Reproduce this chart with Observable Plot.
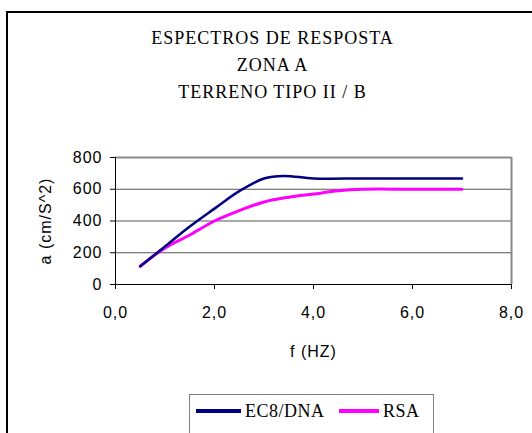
<!DOCTYPE html>
<html>
<head>
<meta charset="utf-8">
<script src="https://cdn.jsdelivr.net/npm/d3@7"></script>
<script src="https://cdn.jsdelivr.net/npm/@observablehq/plot@0.6"></script>
<style>
html, body { margin: 0; padding: 0; background: #fff; }
body { width: 532px; height: 433px; overflow: hidden; position: relative; }
#frame { position: absolute; left: 6px; top: 11px; width: 600px; height: 600px; border: 2px solid #000; box-sizing: border-box; }
#title { position: absolute; left: 0; top: 25px; width: 545px; text-align: center; font-family: "Liberation Serif", "Times New Roman", serif; font-size: 18px; line-height: 27px; letter-spacing: 1px; color: #000; }
#chart { position: absolute; left: 0; top: 140px; }
#chart svg text { letter-spacing: 1px; }
#legend { position: absolute; left: 189px; top: 394px; width: 245px; height: 60px; border: 1px solid #808080; box-sizing: border-box; background: #fff; font-family: "Liberation Serif", "Times New Roman", serif; font-size: 18px; letter-spacing: 0.5px; color: #000; }
.item { position: absolute; top: 6px; display: flex; align-items: center; height: 20px; }
.sw { width: 45px; height: 0; border-top: 4px solid; margin-right: 4px; }
</style>
</head>
<body>
<div id="frame"></div>
<div id="title"></div>
<div id="chart"></div>
<div id="legend"></div>
<script>
// ---- data ----
const titleLines = ["ESPECTROS DE RESPOSTA", "ZONA A", "TERRENO TIPO II / B"];
const seriesNames = ["EC8/DNA", "RSA"];
const seriesColors = ["#000080", "#FF00FF"];

const ec8Freq = [0.5, 1.0, 1.5, 2.0, 2.5, 3.0, 3.4, 4.0, 5.0, 6.0, 7.0];
const ec8Acc  = [115, 240, 365, 478, 588, 668, 684, 668, 668, 668, 668];

const rsaFreq = [0.5, 1.0, 1.5, 2.0, 2.5, 3.0, 3.5, 4.0, 4.5, 5.0, 6.0, 7.0];
const rsaAcc  = [115, 230, 312, 400, 465, 520, 550, 570, 590, 600, 600, 600];

const xTicks = [0, 2, 4, 6, 8];
const xTickLabels = ["0,0", "2,0", "4,0", "6,0", "8,0"];
const yTicks = [0, 200, 400, 600, 800];
const xLabel = "f (HZ)";
const yLabel = "a (cm/S^2)";

// ---- build ----
document.getElementById("title").innerHTML = titleLines.map(t => `<div>${t}</div>`).join("");

const ec8Data = ec8Freq.map((f, i) => ({f, a: ec8Acc[i]}));
const rsaData = rsaFreq.map((f, i) => ({f, a: rsaAcc[i]}));

const chart = Plot.plot({
  width: 532,
  height: 230,
  marginLeft: 115,
  marginRight: 21,
  marginTop: 17,
  marginBottom: 86,
  style: { fontFamily: "'Liberation Sans', Arial, sans-serif", fontSize: "16px", background: "transparent", color: "#000" },
  x: { domain: [0, 8] },
  y: { domain: [0, 800] },
  marks: [
    Plot.ruleY(yTicks.filter(v => v > 0 && v < 800), { stroke: "#555", strokeWidth: 1 }),
    Plot.ruleY([800], { stroke: "#888", strokeWidth: 2 }),
    Plot.ruleX([8], { stroke: "#888", strokeWidth: 2 }),
    Plot.axisY({ ticks: yTicks, tickSize: 5, tickPadding: 8, stroke: "#000", label: yLabel, labelAnchor: "center", labelArrow: "none", labelOffset: 76 }),
    Plot.axisX({ ticks: xTicks, tickSize: 5, tickPadding: 17, stroke: "#000", tickFormat: (d, i) => xTickLabels[i], label: xLabel, labelAnchor: "center", labelArrow: "none", labelOffset: 72 }),
    Plot.ruleX([0], { stroke: "#000", strokeWidth: 1 }),
    Plot.ruleY([0], { stroke: "#000", strokeWidth: 1 }),
    Plot.line(rsaData, { x: "f", y: "a", stroke: seriesColors[1], strokeWidth: 3, curve: "catmull-rom" }),
    Plot.line(ec8Data, { x: "f", y: "a", stroke: seriesColors[0], strokeWidth: 2.5, curve: "catmull-rom" })
  ]
});
document.getElementById("chart").appendChild(chart);

const lefts = [6, 149];
document.getElementById("legend").innerHTML = seriesNames.map((n, i) =>
  `<div class="item" style="left:${lefts[i]}px"><div class="sw" style="border-color:${seriesColors[i]};width:${i === 0 ? 45 : 40}px"></div><span>${n}</span></div>`
).join("");
</script>
</body>
</html>
